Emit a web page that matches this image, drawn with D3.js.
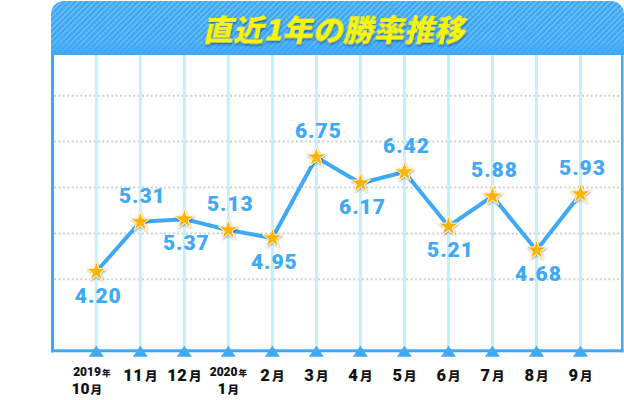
<!DOCTYPE html>
<html><head><meta charset="utf-8">
<script src="https://cdn.jsdelivr.net/npm/d3@7"></script>
<style>body{margin:0;background:#fff;} svg{display:block}</style>
</head><body><svg id="c" width="624" height="400"></svg>
<script>
// ---- data ----
const title = "直近1年の勝率推移";
const monthNums = ["10","11","12","1","2","3","4","5","6","7","8","9"];
const yearNums = ["2019","","","2020","","","","","","","",""];
const rates = [4.20,5.31,5.37,5.13,4.95,6.75,6.17,6.42,5.21,5.88,4.68,5.93];
const gridTicks = [0,1,2,3,4];

// ---- setup ----
const BLUE = "#3fa9f5";
const svg = d3.select("#c");
const defs = svg.append("defs");

const idx = d3.range(rates.length);
const x = d3.scalePoint().domain(idx).range([96.3, 580.5]);
const y = d3.scaleLinear().domain([4.2, 6.75]).range([271.7, 157.2]);
const gy = d3.scaleLinear().domain([0, 4]).range([279.3, 95.7]);

const frame = {l:51, r:624, top:1, hb:55, axis:350.8};

// patterns / filters
const pat = defs.append("pattern").attr("id","hatch").attr("patternUnits","userSpaceOnUse")
  .attr("width",4).attr("height",4).attr("patternTransform","rotate(45)");
pat.append("rect").attr("x",0).attr("y",0).attr("width",1).attr("height",4).attr("fill","#fff").attr("opacity",0.38);
const lg = defs.append("linearGradient").attr("id","fade").attr("x1",0).attr("y1",0).attr("x2",0).attr("y2",1);
lg.append("stop").attr("offset","0").attr("stop-color","#fff").attr("stop-opacity",1);
lg.append("stop").attr("offset","0.75").attr("stop-color","#fff").attr("stop-opacity",0.8);
lg.append("stop").attr("offset","1").attr("stop-color","#fff").attr("stop-opacity",0);
const mask = defs.append("mask").attr("id","hm");
mask.append("rect").attr("x",frame.l).attr("y",frame.top).attr("width",frame.r-frame.l).attr("height",frame.hb-frame.top).attr("fill","url(#fade)");

const fs = defs.append("filter").attr("id","starShadow").attr("x","-50%").attr("y","-50%").attr("width","200%").attr("height","200%");
fs.append("feDropShadow").attr("dx",0.6).attr("dy",1).attr("stdDeviation",0.9).attr("flood-color","#000").attr("flood-opacity",0.35);
const ft = defs.append("filter").attr("id","titleShadow").attr("x","-10%").attr("y","-30%").attr("width","120%").attr("height","160%");
ft.append("feDropShadow").attr("dx",1).attr("dy",2).attr("stdDeviation",0.8).attr("flood-color","#0b3f78").attr("flood-opacity",0.6);

// ---- background grid ----
svg.append("g").selectAll("line").data(gridTicks).join("line")
  .attr("x1",frame.l+3).attr("x2",frame.r-3)
  .attr("y1",d=>gy(d)).attr("y2",d=>gy(d))
  .attr("stroke","#cfcfcf").attr("stroke-width",2).attr("stroke-dasharray","2,2.4");

svg.append("g").selectAll("rect").data(idx).join("rect")
  .attr("x",d=>x(d)-1.5).attr("width",3)
  .attr("y",frame.hb).attr("height",frame.axis-frame.hb)
  .attr("fill","#c6effc");

// ---- frame ----
const r = 13;
svg.append("path")
  .attr("d",`M${frame.l},${frame.hb} V${frame.top+r} A${r},${r} 0 0 1 ${frame.l+r},${frame.top} H${frame.r-r} A${r},${r} 0 0 1 ${frame.r},${frame.top+r} V${frame.hb} Z`)
  .attr("fill",BLUE);
svg.append("rect").attr("x",frame.l).attr("y",frame.top).attr("width",frame.r-frame.l).attr("height",frame.hb-frame.top)
  .attr("fill","url(#hatch)").attr("mask","url(#hm)");
svg.append("rect").attr("x",frame.l).attr("y",frame.hb-1).attr("width",3).attr("height",frame.axis-frame.hb+2.5).attr("fill",BLUE);
svg.append("rect").attr("x",frame.r-3).attr("y",frame.hb-1).attr("width",2.5).attr("height",frame.axis-frame.hb+2.5).attr("fill",BLUE);
svg.append("rect").attr("x",frame.l).attr("y",frame.axis-1.5).attr("width",frame.r-frame.l-0.5).attr("height",3).attr("fill",BLUE);

// title
svg.append("text")
  .attr("transform","translate(334,40.5) skewX(-12)")
  .attr("text-anchor","middle")
  .attr("font-family","'Noto Sans CJK JP'")
  .attr("font-weight",900)
  .attr("font-size",29)
  .attr("textLength",262).attr("lengthAdjust","spacingAndGlyphs")
  .attr("fill","#f7f500")
  .attr("filter","url(#titleShadow)")
  .text(title);

// axis triangles
svg.append("g").selectAll("path").data(idx).join("path")
  .attr("d",d=>`M${x(d)},${frame.axis-5} L${x(d)+7.5},${frame.axis+6} L${x(d)-7.5},${frame.axis+6} Z`)
  .attr("fill",BLUE);

// axis labels
const NUMF = "Roboto", CJKF = "'Noto Sans CJK JP'";
const lab = svg.append("g").attr("font-weight",900).attr("fill","#111").attr("text-anchor","middle");
idx.forEach(i=>{
  const two = yearNums[i] !== "";
  if (two) {
    const xa = x(i)+(i===0?-4.5:0), xb = x(i)+(i===0?-9.5:0);
    const t = lab.append("text").attr("x",xa).attr("y",376.3);
    t.append("tspan").attr("font-family",NUMF).attr("font-size",12).text(yearNums[i]);
    t.append("tspan").attr("font-family",CJKF).attr("font-size",8.5).attr("dx",1).text("年");
    const u = lab.append("text").attr("x",xb).attr("y",393.6);
    u.append("tspan").attr("font-family",NUMF).attr("font-size",15.5).text(monthNums[i]);
    u.append("tspan").attr("font-family",CJKF).attr("font-size",11.5).attr("dx",1).text("月");
  } else {
    const t = lab.append("text").attr("x",x(i)).attr("y",381.3);
    t.append("tspan").attr("font-family",NUMF).attr("font-size",16.5).attr("letter-spacing",0.5).text(monthNums[i]);
    t.append("tspan").attr("font-family",CJKF).attr("font-size",12.5).attr("dx",1.5).text("月");
  }
});

// line
svg.append("path").datum(idx)
  .attr("d",d3.line().x(i=>x(i)).y(i=>y(rates[i])))
  .attr("fill","none").attr("stroke",BLUE).attr("stroke-width",4).attr("stroke-linejoin","round");

// stars
const star = d3.symbol().type(d3.symbolStar).size(110/0.8908130915292852);
svg.append("g").selectAll("path").data(idx).join("path")
  .attr("transform",i=>`translate(${x(i)},${y(rates[i])})`)
  .attr("d",star)
  .attr("fill","#ffb400").attr("stroke","#fff6d8").attr("stroke-width",1)
  .attr("filter","url(#starShadow)");

// value labels
svg.append("g").selectAll("text").data(idx).join("text")
  .attr("x",i=>x(i)+2)
  .attr("y",i=>y(rates[i]) + (i%2===0 ? 31 : -19))
  .attr("text-anchor","middle")
  .attr("font-family","Roboto").attr("font-weight",900).attr("font-size",21)
  .attr("letter-spacing",1)
  .attr("fill",BLUE)
  .text(i=>rates[i].toFixed(2));
</script></body></html>
